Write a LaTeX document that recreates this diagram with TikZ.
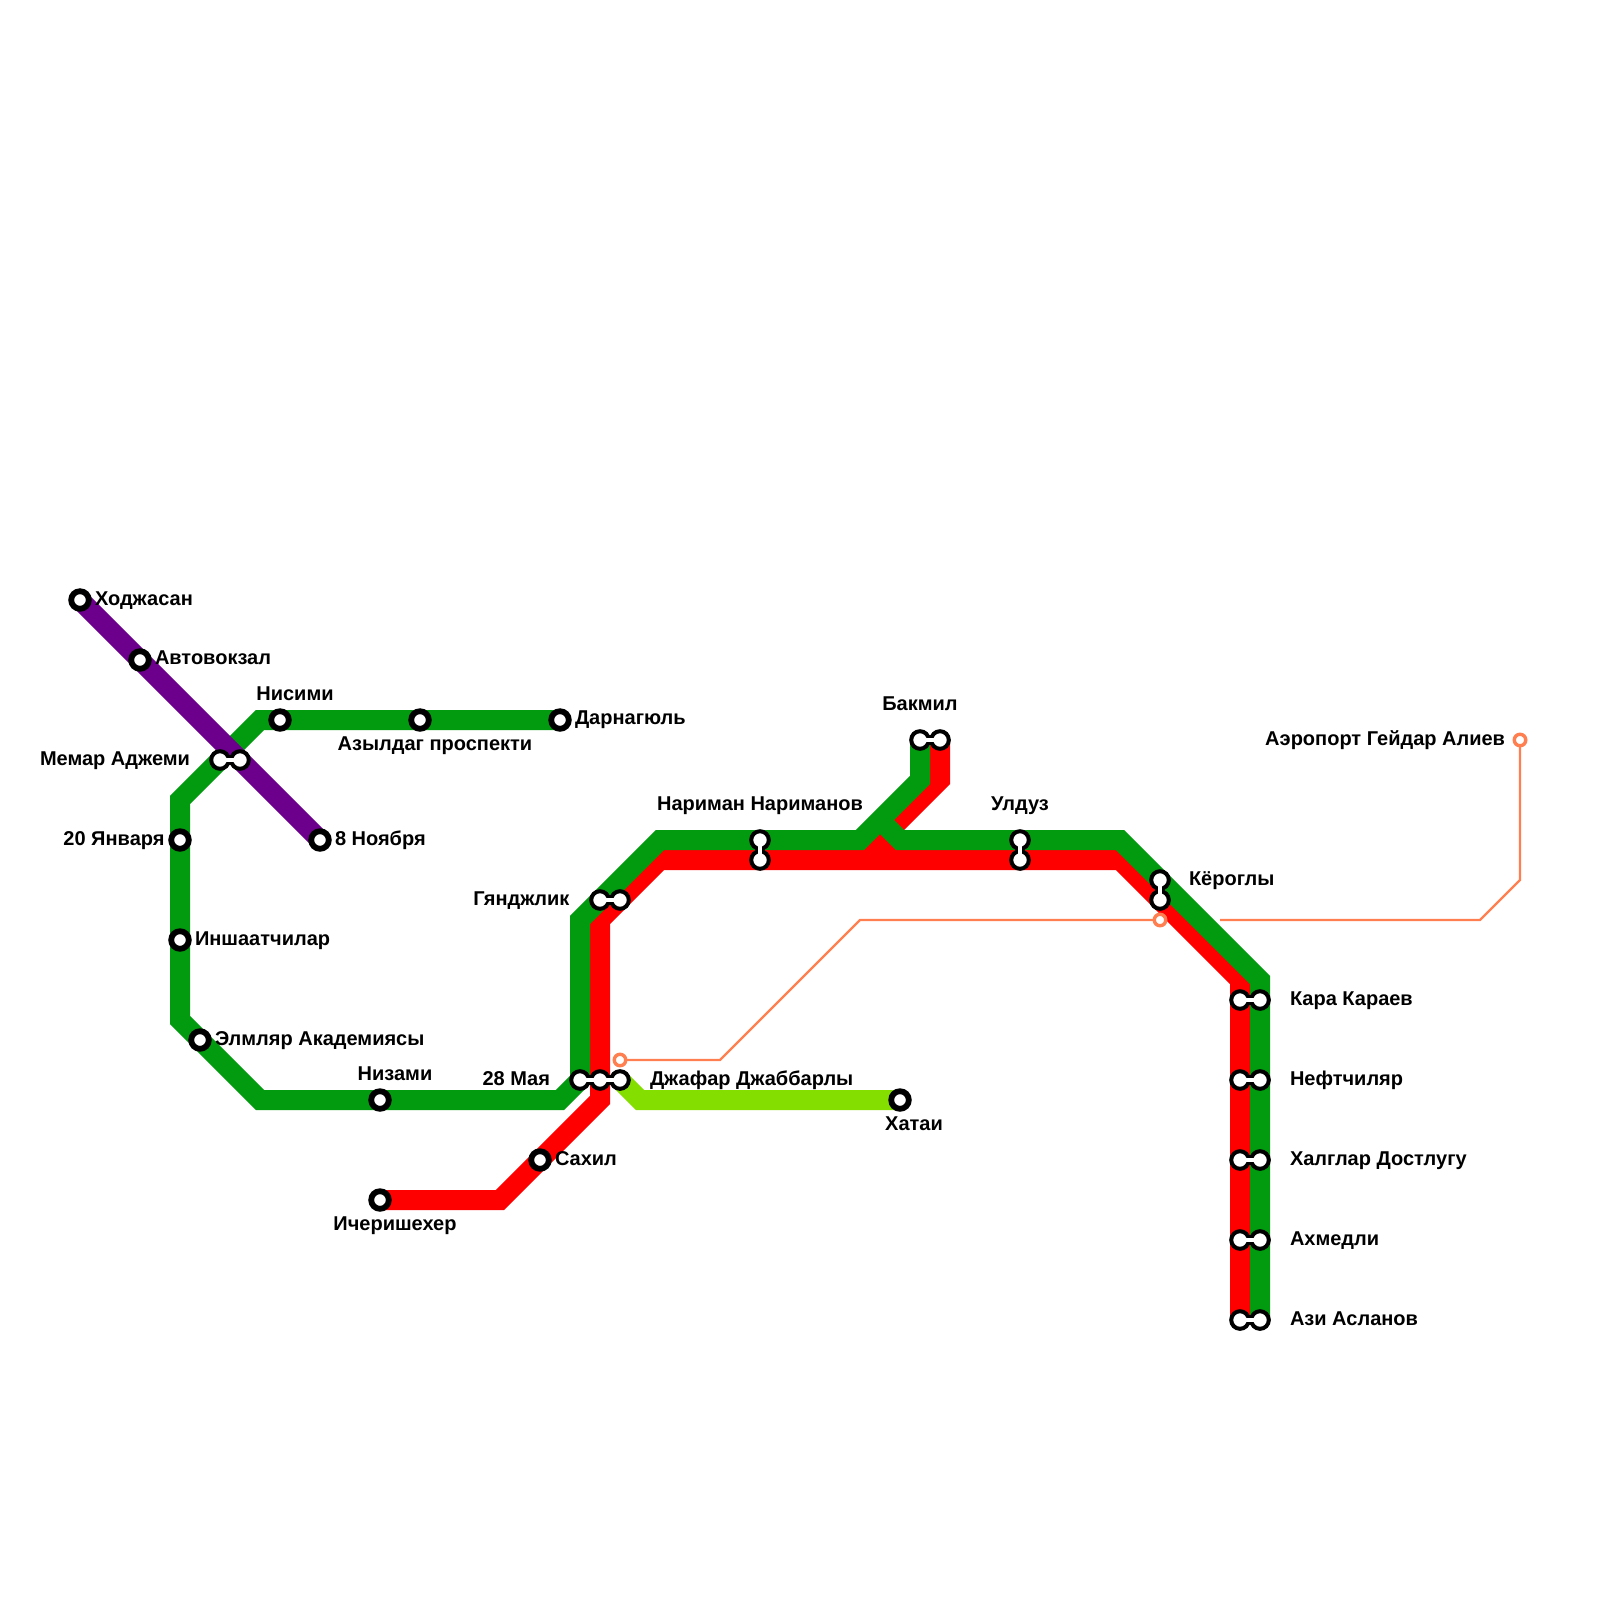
\documentclass[tikz,border=0pt]{standalone}
\usepackage{fontspec}
\setmainfont{Liberation Sans}
\usetikzlibrary{backgrounds}
\definecolor{ligne1}{HTML}{029B0F}
\definecolor{ligne2}{HTML}{FF0000}
\definecolor{ligne3}{HTML}{6C008C}
\definecolor{ligne4}{HTML}{84DF00}
\definecolor{ligne5}{HTML}{FF7F50}
\tikzset{
  ligne/.style={line width=20pt,line join=miter},
  fine/.style={line width=2.4pt,color=ligne5},
  arret/.style={circle,draw=black,fill=white,line width=5.8pt,minimum size=17.6pt,inner sep=0pt,outer sep=0pt},
  duo/.style={circle,draw=black,fill=white,line width=4pt,minimum size=17.6pt,inner sep=0pt,outer sep=0pt},
  petit/.style={circle,draw=ligne5,fill=white,line width=3.4pt,minimum size=11.5pt,inner sep=0pt,outer sep=0pt},
  liendark/.style={line width=10pt,color=black},
  lienclair/.style={line width=3.2pt,color=white},
  nom/.style={font=\bfseries\fontsize{20}{22}\selectfont,inner sep=0pt,outer sep=0pt},
}
\begin{document}
\begin{tikzpicture}[x=1pt,y=-1pt]

\useasboundingbox (0,0) rectangle (1600,1600);

% Arrets simples
\node[arret] (hodj) at (80,600) {};
\node[arret] (avto) at (140,660) {};
\node[arret] (noya) at (320,840) {};
\node[arret] (nisi) at (280,720) {};
\node[arret] (azyl) at (420,720) {};
\node[arret] (darn) at (560,720) {};
\node[arret] (janv) at (180,840) {};
\node[arret] (insh) at (180,940) {};
\node[arret] (elml) at (200,1040) {};
\node[arret] (niza) at (380,1100) {};
\node[arret] (hata) at (900,1100) {};
\node[arret] (sahi) at (540,1160) {};
\node[arret] (iche) at (380,1200) {};

% Arrets doubles
\node[duo] (memA) at (220,760) {};
\node[duo] (memB) at (240,760) {};
\node[duo] (maiA) at (580,1080) {};
\node[duo] (maiB) at (600,1080) {};
\node[duo] (maiC) at (620,1080) {};
\node[duo] (ganA) at (600,900) {};
\node[duo] (ganB) at (620,900) {};
\node[duo] (nanA) at (760,840) {};
\node[duo] (nanB) at (760,860) {};
\node[duo] (bakA) at (920,740) {};
\node[duo] (bakB) at (940,740) {};
\node[duo] (ulduA) at (1020,840) {};
\node[duo] (ulduB) at (1020,860) {};
\node[duo] (kerA) at (1160,880) {};
\node[duo] (kerB) at (1160,900) {};
\node[duo] (karA) at (1240,1000) {};
\node[duo] (karB) at (1260,1000) {};
\node[duo] (nefA) at (1240,1080) {};
\node[duo] (nefB) at (1260,1080) {};
\node[duo] (halA) at (1240,1160) {};
\node[duo] (halB) at (1260,1160) {};
\node[duo] (ahmA) at (1240,1240) {};
\node[duo] (ahmB) at (1260,1240) {};
\node[duo] (aziA) at (1240,1320) {};
\node[duo] (aziB) at (1260,1320) {};

% Aeroport
\node[petit] (aerA) at (620,1060) {};
\node[petit] (aerB) at (1160,920) {};
\node[petit] (aerC) at (1520,740) {};
\coordinate (aerD) at (1220,920);

\begin{scope}[on background layer]

\fill[white] (0,0) rectangle (1600,1600);

\draw[fine] (aerA) -- (720,1060) -- (860,920) -- (aerB);
\draw[fine] (aerD) -- (1480,920) -- (1520,880) -- (aerC);

% Rouge
\draw[ligne,ligne2] (iche.center) -- (500,1200) -- (600,1100) -- (600,920) -- (660,860)
  -- (1120,860) -- (1240,980) -- (aziA.center);
\draw[ligne,ligne2] (860,860) -- (940,780) -- (bakB.center);
\draw[ligne,ligne2] (900,860) -- (880,840);

% Vert
\draw[ligne,ligne1] (aziB.center) -- (1260,980) -- (1120,840) -- (900,840) -- (880,820);
\draw[ligne,ligne1] (bakA.center) -- (920,780) -- (860,840) -- (660,840) -- (580,920)
  -- (maiA.center) -- (560,1100) -- (260,1100) -- (180,1020) -- (180,800) -- (260,720) -- (darn.center);

\draw[ligne,ligne4] (maiC.center) -- (640,1100) -- (hata.center);
\draw[ligne,ligne3] (hodj.center) -- (noya.center);

% Liens
\foreach \a/\b in {memA/memB,maiA/maiB,maiB/maiC,ganA/ganB,nanA/nanB,bakA/bakB,ulduA/ulduB,kerA/kerB,karA/karB,nefA/nefB,halA/halB,ahmA/ahmB,aziA/aziB}
{
\draw[liendark] (\a.center) -- (\b.center);
}

\end{scope}

\foreach \a/\b in {memA/memB,maiA/maiB,maiB/maiC,ganA/ganB,nanA/nanB,bakA/bakB,ulduA/ulduB,kerA/kerB,karA/karB,nefA/nefB,halA/halB,ahmA/ahmB,aziA/aziB}
{
\draw[lienclair] (\a.center) -- (\b.center);
}

% Noms
\node[nom,anchor=base west] (nhodj) at (95,605) {Ходжасан};
\node[nom,anchor=base west] (navto) at (155,664) {Автовокзал};
\node[nom,anchor=base] (nnisi) at (295,700) {Нисими};
\node[nom,anchor=base west] (ndarn) at (575,724) {Дарнагюль};
\node[nom,anchor=base] (nazyl) at (435,750) {Азылдаг проспекти};
\node[nom,anchor=base east] (nmem) at (190,765) {Мемар Аджеми};
\node[nom,anchor=base east] (njanv) at (164.5,845) {20 Января};
\node[nom,anchor=base west] (nnoya) at (335,845) {8 Ноября};
\node[nom,anchor=base west] (ninsh) at (195,945) {Иншаатчилар};
\node[nom,anchor=base west] (nelml) at (215,1045) {Элмляр Академиясы};
\node[nom,anchor=base] (nniza) at (395,1080) {Низами};
\node[nom,anchor=base east] (nmai) at (550,1085) {28 Мая};
\node[nom,anchor=base west] (ndja) at (650,1085) {Джафар Джаббарлы};
\node[nom,anchor=base] (nhata) at (914,1130) {Хатаи};
\node[nom,anchor=base west] (nsahi) at (555,1165) {Сахил};
\node[nom,anchor=base] (niche) at (395,1230) {Ичеришехер};
\node[nom,anchor=base east] (ngan) at (569.5,905) {Гянджлик};
\node[nom,anchor=base] (nnan) at (760,810) {Нариман Нариманов};
\node[nom,anchor=base] (nbak) at (920,710) {Бакмил};
\node[nom,anchor=base] (nuldu) at (1020,810) {Улдуз};
\node[nom,anchor=base west] (nker) at (1189,885) {Кёроглы};
\node[nom,anchor=base east] (naer) at (1505,745) {Аэропорт Гейдар Алиев};
\node[nom,anchor=base west] (nkar) at (1290,1005) {Кара Караев};
\node[nom,anchor=base west] (nnef) at (1290,1085) {Нефтчиляр};
\node[nom,anchor=base west] (nhal) at (1290,1165) {Халглар Достлугу};
\node[nom,anchor=base west] (nahm) at (1290,1245) {Ахмедли};
\node[nom,anchor=base west] (nazi) at (1290,1325) {Ази Асланов};

\end{tikzpicture}
\end{document}
